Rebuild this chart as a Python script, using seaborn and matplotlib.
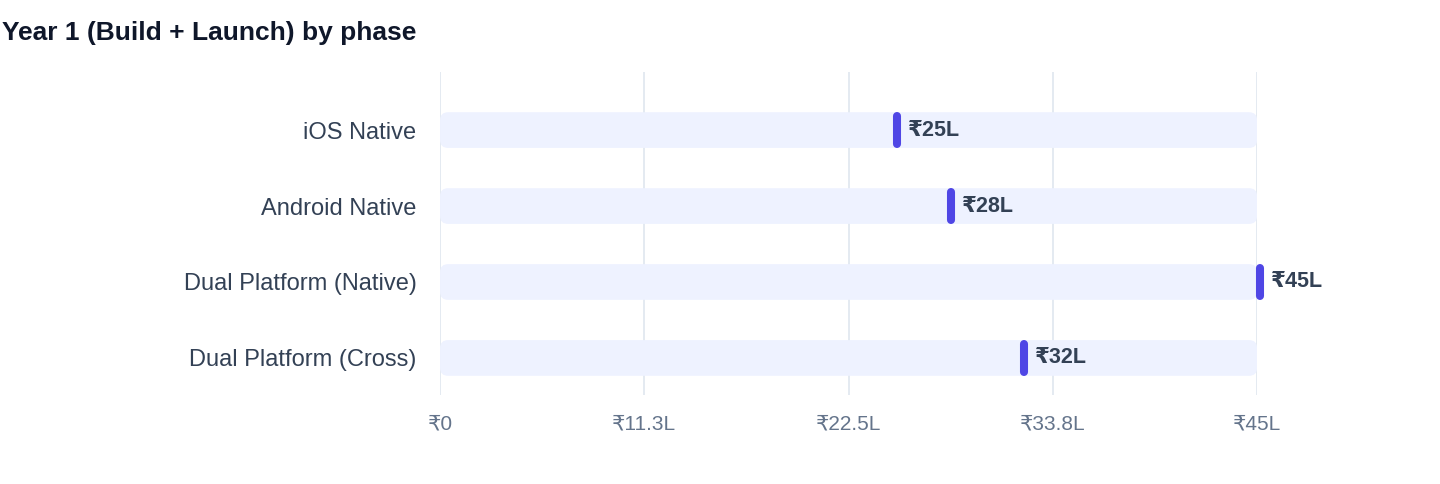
import numpy as np
import pandas as pd
import seaborn as sns
import matplotlib.pyplot as plt
from matplotlib.patches import FancyBboxPatch

# data
phases = ["iOS Native", "Android Native", "Dual Platform (Native)", "Dual Platform (Cross)"]
costs = [25, 28, 45, 32]            # in lakh rupees
axis_max = 45
tick_values = [0, 11.25, 22.5, 33.75, 45]
tick_labels = ["₹0", "₹11.3L", "₹22.5L", "₹33.8L", "₹45L"]
value_labels = ["₹25L", "₹28L", "₹45L", "₹32L"]
title = "Year 1 (Build + Launch) by phase"

sns.set_theme(style="white")
plt.rcParams['font.family'] = ['Liberation Sans', 'DejaVu Sans']

df = pd.DataFrame({"phase": phases, "cost": costs, "track": [axis_max] * len(phases)})

fig = plt.figure(figsize=(14.4, 4.84), dpi=100)
ax = fig.add_axes([0.3056, 0.184, 0.5674, 0.667])

# background track bars, rounded afterwards
sns.barplot(data=df, x="track", y="phase", color="#EEF2FF", width=0.47, ax=ax, zorder=2)
for p in list(ax.patches):
    x0, y0, w, h = p.get_x(), p.get_y(), p.get_width(), p.get_height()
    p.remove()
    ax.add_patch(FancyBboxPatch((x0, y0), w, h,
                                boxstyle="round,pad=0,rounding_size=0.44",
                                mutation_aspect=0.24, facecolor="#EEF2FF",
                                edgecolor="none", zorder=2))

# value markers
ypos = np.arange(len(phases))
ax.vlines(df["cost"] + 0.15, ypos - 0.185, ypos + 0.185, colors="#4F46E5", linewidth=5.8,
          capstyle="round", zorder=4, clip_on=False)
for y, v, lab in zip(ypos, df["cost"], value_labels):
    ax.text(v + 0.75, y, lab, va="center", ha="left", fontsize=15.5, fontweight="bold",
            color="#334155", zorder=5)

ax.set_xlim(0, axis_max)
ax.set_ylim(3.487, -0.763)
ax.set_xticks(tick_values)
ax.set_xticklabels(tick_labels, fontsize=15, color="#64748B")
ax.tick_params(axis="x", length=0, pad=14)
ax.tick_params(axis="y", length=0, pad=17, labelsize=17, labelcolor="#334155")
ax.set_xlabel("")
ax.set_ylabel("")
ax.grid(axis="x", color="#E2E8F0", linewidth=1.3, zorder=0)
ax.set_axisbelow(True)
for s in ax.spines.values():
    s.set_visible(False)

fig.text(0.0015, 0.932, title, fontsize=19, fontweight="bold", color="#0F172A",
         ha="left", va="center")

fig.savefig("out.png", dpi=100, facecolor="white")
